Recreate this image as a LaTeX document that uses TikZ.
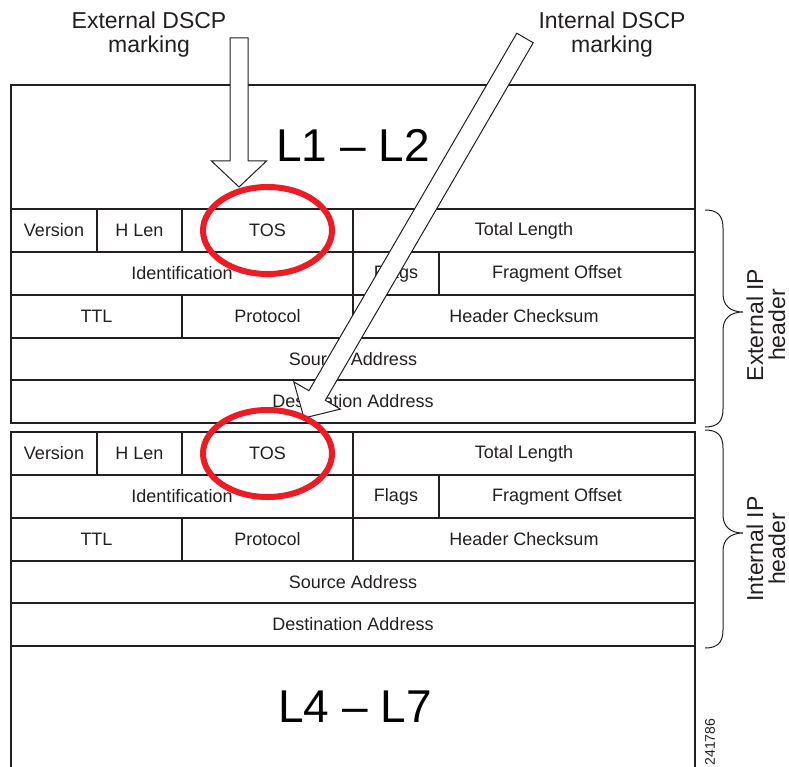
\documentclass[tikz,border=0pt]{standalone}
\usepackage{fontspec}
\setmainfont{Liberation Sans}
\definecolor{ink}{HTML}{231F20}
\definecolor{cred}{HTML}{ED1C24}
\newcommand\iphdr[2]{%
  \begin{scope}[shift={(0,#1)}]
    \draw[grid] (11,0) -- (695,0);
    \foreach \yy in {43,86,129,171,214} {\draw[grid] (11,\yy) -- (695,\yy);}
    \draw[grid] (97,0) -- (97,43);
    \draw[grid] (182,0) -- (182,43);
    \draw[grid] (353,0) -- (353,43);
    \draw[grid] (353,43) -- (353,86);
    \draw[grid] (439,43) -- (439,86);
    \draw[grid] (182,86) -- (182,129);
    \draw[grid] (353,86) -- (353,129);
    \node[cell] (#2ver) at (54,21.5) {Version};
    \node[cell] (#2hlen) at (139.5,21.5) {H Len};
    \node[cell] (#2tos) at (267.5,21.5) {TOS};
    \node[cell] (#2tlen) at (524,21.5) {Total Length};
    \node[cell] (#2ident) at (182,64.5) {Identification};
    \node[cell] (#2flags) at (396,64.5) {Flags};
    \node[cell] (#2frag) at (557,64.5) {Fragment Offset};
    \node[cell] (#2ttl) at (96.5,107.5) {TTL};
    \node[cell] (#2proto) at (267.5,107.5) {Protocol};
    \node[cell] (#2csum) at (524,107.5) {Header Checksum};
    \node[cell] (#2src) at (353,150) {Source Address};
    \node[cell] (#2dst) at (353,192.5) {Destination Address};
  \end{scope}}
\newcommand\mybrace[3]{%
  \draw[brc] (705,#1) .. controls (717,#1) and (723,#1+5) .. (723,#1+18)
    -- (723,#2-18) .. controls (723,#2-6) and (731,#2) .. (743,#2)
    .. controls (731,#2) and (723,#2+6) .. (723,#2+18)
    -- (723,#3-18) .. controls (723,#3-5) and (717,#3) .. (705,#3);}
\begin{document}
\begin{tikzpicture}[x=1pt,y=-1pt,
  cell/.style={font=\fontsize{18}{20}\selectfont, text=ink, inner sep=0pt},
  big/.style={font=\fontsize{46}{50}\selectfont, text=black, inner sep=0pt},
  lbl/.style={font=\fontsize{23}{24}\selectfont, text=ink, align=center, inner sep=0pt},
  side/.style={font=\fontsize{23}{22}\selectfont, text=ink, align=center, inner sep=0pt, rotate=90},
  grid/.style={draw=ink, line width=1.5pt},
  blockarrow/.style={draw=ink, fill=white, line width=1pt, line join=miter},
  ring/.style={draw=cred, line width=6pt},
  brc/.style={draw=ink, line width=1pt},
]
\useasboundingbox (0,0) rectangle (789,767);
% outer frames
\draw[grid] (11,85) rectangle (695,423);
\draw[grid] (11,767) -- (11,432) -- (695,432) -- (695,767);
\draw[grid] (11,209) -- (695,209);
\iphdr{209}{e}
\iphdr{432}{i}
\node[big, anchor=base] (l12) at (353,162) {L1 – L2};
\node[big, anchor=base] (l47) at (355,722) {L4 – L7};
% labels on top
\node[lbl] (extlbl) at (149,35) {External DSCP\\marking};
\node[lbl] (intlbl) at (612,35) {Internal DSCP\\marking};
% braces
\mybrace{210}{312}{427}
\mybrace{430}{533}{648}
\node[side] (exthdr) at (766,325) {External IP\\header};
\node[side] (inthdr) at (766,549) {Internal IP\\header};
\node[font=\fontsize{14}{14}\selectfont, text=ink, rotate=90, inner sep=0pt] (figno) at (710,742) {241786};
% block arrows
\draw[blockarrow] (239,187) -- (211.5,161) -- (230,161) -- (230,38) -- (248,38) -- (248,161) -- (266.5,161) -- cycle;
\draw[blockarrow] (304,418) -- (293.8,381.9) -- (308.9,390.7) -- (516.8,33.2) -- (533.2,42.8) -- (325.3,400.3) -- (340.4,409.1) -- cycle;
% red rings
\draw[ring] (267.5,230.5) ellipse [x radius=64.5, y radius=43.5];
\draw[ring] (267.5,453.5) ellipse [x radius=64.5, y radius=43.5];
\end{tikzpicture}
\end{document}
